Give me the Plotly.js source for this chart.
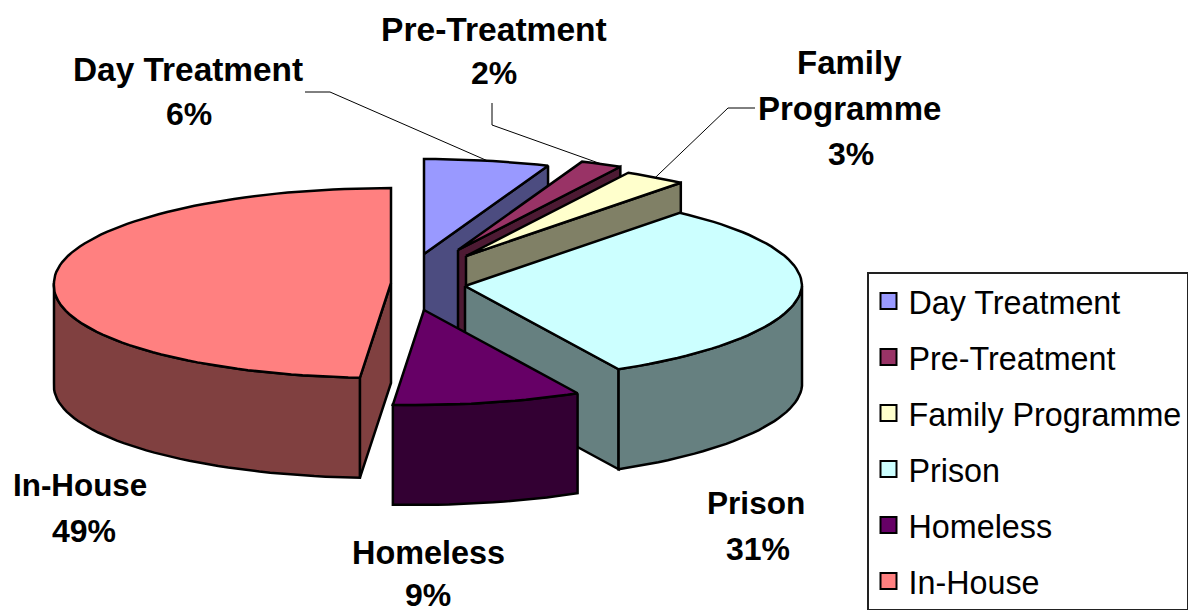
<!DOCTYPE html>
<html>
<head>
<meta charset="utf-8">
<script src="https://cdn.plot.ly/plotly-3.0.1.min.js"></script>
<style>html,body{margin:0;padding:0;background:#fff}#chart{width:1197px;height:614px}</style>
</head>
<body>
<div id="chart"></div>
<script>
// Data
var categories = ["Day Treatment", "Pre-Treatment", "Family Programme", "Prison", "Homeless", "In-House"];
var values = [6, 2, 3, 31, 9, 49];
var topColors = ["#9999FF", "#993366", "#FFFFCC", "#CCFFFF", "#660066", "#FF8080"];
var sideColors = ["#4C4C80", "#4D1A33", "#808066", "#668080", "#330033", "#804040"];
var labelLines = [["Day Treatment"], ["Pre-Treatment"], ["Family", "Programme"], ["Prison"], ["Homeless"], ["In-House"]];

// Projection of the exploded tilted pie (pixel-sized axes)
var RX = 337, RY = 95, DEPTH = 100, LEAN = 10;
var hubs = [[424, 254], [458, 250], [466, 256], [465, 286], [424, 310], [391, 283]];
// x, first line y, line pitch, font size, x shift of the percent line
var labelSpots = [[188, 69, 45, 33.4, 1], [494, 29, 44, 33.6, 0], [849, 62, 46, 33, 2], [756, 503, 46, 31.6, 2], [428, 553, 42, 32.4, 0], [80, 485, 46, 31.4, 4]];
var leaderElbows = [[[305, 92], [330, 92]], [[492, 103], [492, 125]], [[755, 108], [728, 108]], null, null, null];

function rim(i, deg) {
  var t = deg * Math.PI / 180, c = Math.cos(t);
  return [hubs[i][0] + RX * Math.sin(t) + LEAN * Math.min(c, 0), hubs[i][1] - RY * c];
}
function arc(i, a, b) {
  var pts = [], n = Math.max(2, Math.ceil((b - a) / 2));
  for (var k = 0; k <= n; k++) pts.push(rim(i, a + (b - a) * k / n));
  return pts;
}
function poly(pts, fill, name) {
  return {
    type: "scatter", mode: "lines", x: pts.map(function (p) { return p[0]; }), y: pts.map(function (p) { return p[1]; }),
    fill: "toself", fillcolor: fill, line: { color: "#000", width: 2.5 }, showlegend: false, hoverinfo: "skip", name: name
  };
}
function drop(pts) { return pts.map(function (p) { return [p[0], p[1] + DEPTH]; }); }

var traces = [], annotations = [], total = values.reduce(function (s, v) { return s + v; }, 0);
var cum = 0, bounds = values.map(function (v) { var a = cum; cum += v / total * 360; return [a, cum]; });

// Leader lines
leaderElbows.forEach(function (e, i) {
  if (!e) return;
  var pts = e.concat([rim(i, (bounds[i][0] + bounds[i][1]) / 2)]);
  traces.push({ type: "scatter", mode: "lines", x: pts.map(function (p) { return p[0]; }), y: pts.map(function (p) { return p[1]; }),
    line: { color: "#000", width: 1 }, showlegend: false, hoverinfo: "skip" });
});

// Slices, back to front
[0, 1, 2, 3, 5, 4].forEach(function (i) {
  var a = bounds[i][0], b = bounds[i][1], hub = hubs[i];
  var cutDeg = b <= 180 ? b : (a >= 180 ? a : null);
  if (cutDeg !== null) {
    var p = rim(i, cutDeg), face = [hub, p];
    traces.push(poly(face.concat(drop(face).reverse()).concat([hub]), sideColors[i], categories[i]));
  }
  var fa = Math.max(a, 90), fb = Math.min(b, 270);
  if (fb > fa) {
    var wall = arc(i, fa, fb);
    traces.push(poly(wall.concat(drop(wall).reverse()).concat([wall[0]]), sideColors[i], categories[i]));
  }
  traces.push(poly([hub].concat(arc(i, a, b)).concat([hub]), topColors[i], categories[i]));
});

// Legend entries
categories.forEach(function (c, i) {
  traces.push({ type: "scatter", mode: "markers", x: [null], y: [null], name: c, legendgroup: c,
    marker: { symbol: "square", size: 18, color: topColors[i], line: { color: "#000", width: 2 } }, hoverinfo: "skip" });
});

// Data labels
labelLines.forEach(function (lines, i) {
  var s = labelSpots[i], all = lines.concat([Math.round(values[i] / total * 100) + "%"]);
  all.forEach(function (t, k) {
    var isPct = k === all.length - 1;
    annotations.push({ xref: "x", yref: "y", x: s[0] + (isPct ? s[4] : 0), y: s[1] + k * s[2], text: t, showarrow: false,
      xanchor: "center", yanchor: "middle", borderpad: 0,
      font: { family: "Liberation Sans, Arial, sans-serif", size: isPct ? 32 : s[3], color: "#000", weight: "bold" } });
  });
});

var layout = {
  width: 1197, height: 614, margin: { l: 0, r: 0, t: 0, b: 0 },
  paper_bgcolor: "#fff", plot_bgcolor: "#fff",
  xaxis: { range: [0, 1197], visible: false, fixedrange: true },
  yaxis: { range: [614, 0], visible: false, fixedrange: true },
  annotations: annotations,
  showlegend: true,
  legend: { x: 867 / 1197, y: 1 - 272 / 614, xanchor: "left", yanchor: "top", bgcolor: "#fff", bordercolor: "#222", borderwidth: 1.5,
    traceorder: "grouped", tracegroupgap: 11, itemclick: false, itemdoubleclick: false,
    font: { family: "Liberation Sans, Arial, sans-serif", size: 32.3, color: "#000" } }
};
Plotly.newPlot("chart", traces, layout, { displayModeBar: false, staticPlot: true });
</script>
</body>
</html>
